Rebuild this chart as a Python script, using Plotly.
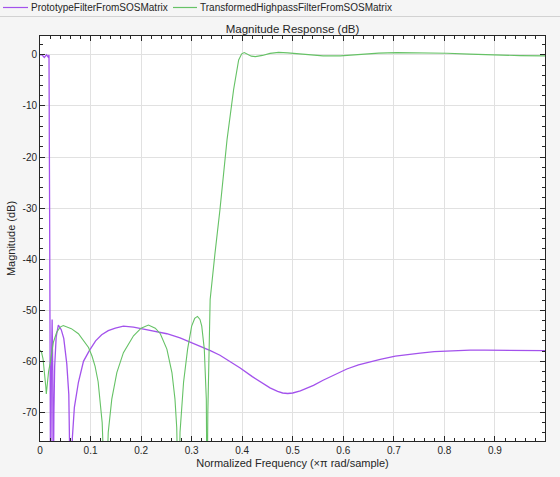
import plotly.graph_objects as go

# ---- data ----
proto_f = [0.000, 0.004, 0.0085, 0.013, 0.016, 0.0178, 0.0190, 0.0200, 0.0210, 0.0225,
           0.0240, 0.0252, 0.0262, 0.0275, 0.0290, 0.0320, 0.0363, 0.0420, 0.0470, 0.0530,
           0.0570, 0.0605, 0.0640, 0.0680, 0.0760, 0.0860, 0.0970, 0.1100, 0.1220, 0.1350,
           0.1490, 0.1650, 0.1850, 0.2100, 0.2300, 0.2510, 0.2770, 0.3000, 0.3170, 0.3370,
           0.3560, 0.3760, 0.3960, 0.4200, 0.4400, 0.4550, 0.4700, 0.4800, 0.4900, 0.5000,
           0.5150, 0.5300, 0.5410, 0.5600, 0.5800, 0.5940, 0.6070, 0.6300, 0.6530, 0.6730,
           0.7030, 0.7300, 0.7520, 0.7800, 0.8020, 0.8300, 0.8510, 0.8800, 0.9100, 0.9400,
           0.9700, 0.9990]
proto_db = [0.0, 0.0, -0.5, 0.0, -0.4, 0.0, -30.0, -65.0, -90.0, -62.0,
            -51.8, -62.0, -90.0, -70.0, -61.0, -55.2, -52.9, -53.8, -55.5, -60.5,
            -66.5, -90.0, -75.0, -69.0, -64.1, -60.0, -58.0, -56.0, -54.8, -54.0,
            -53.5, -53.1, -53.3, -53.8, -54.2, -54.6, -55.4, -56.3, -57.0, -57.9,
            -58.8, -60.0, -61.3, -63.0, -64.3, -65.2, -65.9, -66.2, -66.3, -66.2,
            -65.8, -65.2, -64.7, -63.7, -62.7, -62.0, -61.5, -60.7, -60.1, -59.6,
            -59.0, -58.6, -58.4, -58.1, -58.0, -57.9, -57.8, -57.8, -57.8, -57.8,
            -57.8, -57.9]

hp_f = [0.000, 0.003, 0.006, 0.009, 0.0115, 0.0125, 0.014, 0.017, 0.0198, 0.0230,
        0.0264, 0.0330, 0.0400, 0.0460, 0.0530, 0.0620, 0.0760, 0.0870, 0.0960, 0.1030,
        0.1090, 0.1150, 0.1190, 0.1230, 0.1295, 0.1350, 0.1420, 0.1520, 0.1650, 0.1850,
        0.2000, 0.2145, 0.2280, 0.2380, 0.2510, 0.2610, 0.2670, 0.2705, 0.2740, 0.2770,
        0.2840, 0.2920, 0.3000, 0.3060, 0.3115, 0.3165, 0.3200, 0.3250, 0.3290, 0.3305,
        0.3320, 0.3366, 0.3460, 0.3560, 0.3700, 0.3830, 0.3930, 0.3990, 0.4040, 0.4100,
        0.4180, 0.4260, 0.4400, 0.4550, 0.4720, 0.4900, 0.5100, 0.5350, 0.5600, 0.5940,
        0.6300, 0.6700, 0.7060, 0.7500, 0.8050, 0.8500, 0.9040, 0.9500, 0.9990]
hp_db = [-57.8, -58.2, -59.5, -62.0, -65.0, -66.4, -64.5, -62.0, -60.5, -58.2,
         -56.3, -54.3, -53.3, -53.0, -53.2, -53.6, -54.6, -56.0, -57.3, -59.0,
         -61.0, -64.0, -67.4, -72.0, -90.0, -73.9, -67.4, -62.2, -58.3, -55.0,
         -53.5, -52.9, -53.5, -54.6, -57.6, -62.2, -67.4, -73.0, -90.0, -73.9,
         -64.1, -57.6, -53.1, -51.6, -51.2, -51.8, -53.1, -57.6, -67.4, -90.0,
         -70.0, -47.9, -39.0, -30.3, -16.6, -6.8, -1.0, 0.2, 0.45, 0.1,
         -0.25, -0.33, -0.1, 0.3, 0.5, 0.4, 0.2, -0.07, -0.2, -0.2,
         0.1, 0.35, 0.45, 0.45, 0.33, 0.15, -0.07, -0.15, -0.2]

series_names = ["PrototypeFilterFromSOSMatrix", "TransformedHighpassFilterFromSOSMatrix"]
series_colors = ["#a352ec", "#66c266"]

x_ticks = [0, 0.1, 0.2, 0.3, 0.4, 0.5, 0.6, 0.7, 0.8, 0.9]
x_tick_labels = ["0", "0.1", "0.2", "0.3", "0.4", "0.5", "0.6", "0.7", "0.8", "0.9"]
y_ticks = [0, -10, -20, -30, -40, -50, -60, -70]
y_tick_labels = ["0", "-10", "-20", "-30", "-40", "-50", "-60", "-70"]

FONT = "Liberation Sans, Arial, Helvetica, sans-serif"
INK = "#262626"

fig = go.Figure()
fig.add_trace(go.Scatter(x=proto_f, y=proto_db, mode="lines", name=series_names[0],
                         line=dict(color=series_colors[0], width=1.3), showlegend=False))
fig.add_trace(go.Scatter(x=hp_f, y=hp_db, mode="lines", name=series_names[1],
                         line=dict(color=series_colors[1], width=1.1), showlegend=False))

W, H = 560, 477
L, R, T, B = 40, 15, 36, 36
pw = W - L - R
ph = H - T - B


def px_x(px):
    return (px - L) / pw


def px_y(py):
    return (H - B - py) / ph


# manual legend
shapes = []
annotations = []
legend_items = [(3, 28, 29), (173, 197, 198)]
for (x0, x1, xt), name, col in zip(legend_items, series_names, series_colors):
    shapes.append(dict(type="line", xref="paper", yref="paper",
                       x0=px_x(x0), x1=px_x(x1), y0=px_y(7.5), y1=px_y(7.5),
                       line=dict(color=col, width=1.2)))
    annotations.append(dict(text=name, xref="paper", yref="paper",
                            x=px_x(xt), y=px_y(7.5), xanchor="left", yanchor="middle",
                            showarrow=False, font=dict(family=FONT, size=10, color=INK)))
shapes.append(dict(type="line", xref="paper", yref="paper",
                   x0=px_x(0), x1=px_x(W), y0=px_y(16.5), y1=px_y(16.5),
                   line=dict(color="#d2d2d2", width=1)))

axis_common = dict(showline=True, linecolor=INK, linewidth=1, mirror="ticks",
                   ticks="inside", ticklen=5, tickcolor=INK, tickwidth=1,
                   showgrid=True, gridcolor="#e1e1e1", gridwidth=1, zeroline=False,
                   tickfont=dict(family=FONT, size=10, color=INK))

fig.update_layout(
    width=W, height=H,
    margin=dict(l=L, r=R, t=T, b=B, autoexpand=False),
    paper_bgcolor="#f5f5f5", plot_bgcolor="#ffffff",
    font=dict(family=FONT, size=10, color=INK),
    title=dict(text="Magnitude Response (dB)", x=0.5, xref="paper",
               y=1 - 28.5 / H, yref="container", xanchor="center", yanchor="middle",
               font=dict(family=FONT, size=11.5, color=INK)),
    shapes=shapes, annotations=annotations,
    hovermode=False,
    xaxis=dict(range=[0, 0.999], tickvals=x_ticks, ticktext=x_tick_labels,
               minor=dict(dtick=0.02, tick0=0, ticks="inside", ticklen=3, tickcolor=INK,
                          showgrid=False),
               title=dict(text="Normalized Frequency (×π rad/sample)", standoff=4,
                          font=dict(family=FONT, size=11, color=INK)),
               **axis_common),
    yaxis=dict(range=[-75.6, 3.7], tickvals=y_ticks, ticktext=y_tick_labels,
               minor=dict(dtick=2, tick0=0, ticks="inside", ticklen=3, tickcolor=INK,
                          showgrid=False),
               title=dict(text="Magnitude (dB)", standoff=4,
                          font=dict(family=FONT, size=11, color=INK)),
               **axis_common),
)

fig.write_html("out.html", config={"displayModeBar": False},
               post_script="document.body.style.margin='0';document.body.style.background='#f5f5f5';")
